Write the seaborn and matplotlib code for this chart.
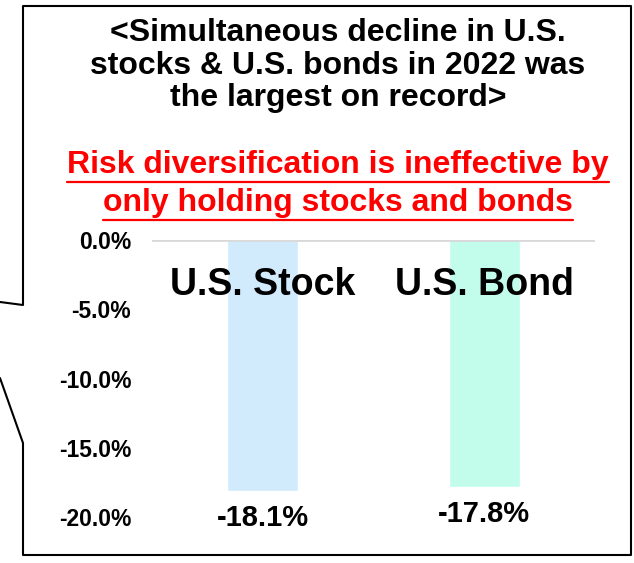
import matplotlib
matplotlib.use("Agg")
import matplotlib.pyplot as plt
import seaborn as sns
import pandas as pd
from matplotlib.lines import Line2D

# -----------------------------
# Data
# -----------------------------
assets = ["U.S. Stock", "U.S. Bond"]
returns_2022 = [-18.1, -17.8]
bar_colors = ["#D1EBFD", "#C2FDEC"]
yticks = [0, -5, -10, -15, -20]

title_lines = ["<Simultaneous decline in U.S.",
               "stocks & U.S. bonds in 2022 was",
               "the largest on record>"]
red_lines = ["Risk diversification is ineffective by",
             "only holding stocks and bonds"]

df = pd.DataFrame({"asset": assets, "ret": returns_2022})

# -----------------------------
# Style
# -----------------------------
sns.set_style("white")
plt.rcParams["font.family"] = ["Liberation Sans", "DejaVu Sans"]
plt.rcParams["font.weight"] = "bold"
plt.rcParams["text.color"] = "black"
plt.rcParams["ytick.color"] = "black"

W, H = 634, 563
fig = plt.figure(figsize=(W / 100, H / 100), dpi=100)
ax = fig.add_axes([152 / W, 46 / H, (595 - 152) / W, (517 - 240) / H])

sns.barplot(data=df, x="asset", y="ret", hue="asset", palette=bar_colors,
            width=0.32, legend=False, ax=ax, saturation=1)

ax.set_xlim(-0.5, 1.5)
ax.set_ylim(-20, 0)
ax.set_yticks(yticks)
ax.set_yticklabels([f"{v:.1f}%" for v in yticks], fontsize=16.5, fontweight="bold",
                   color="black")
ax.tick_params(axis="y", length=0, pad=15)
ax.set_xticks([])
ax.set_xlabel("")
ax.set_ylabel("")
for s in ax.spines.values():
    s.set_visible(False)
ax.axhline(0, color="#D9D9D9", lw=2, zorder=3)

# category names inside the plot and value labels under bars
for i, (name, val) in enumerate(zip(assets, returns_2022)):
    ax.text(i, -3.25, name, ha="center", va="center", fontsize=27, fontweight="bold",
            color="black")
    ax.annotate(f"{val:.1f}%", (i, val), xytext=(0, -20), textcoords="offset points",
                ha="center", va="center", fontsize=21, fontweight="bold",
                color="black", annotation_clip=False)

# -----------------------------
# Headline text
# -----------------------------
cx = 338 / W
for txt, y in zip(title_lines, [33, 66, 98]):
    fig.text(cx, 1 - y / H, txt, ha="center", va="center", fontsize=23,
             fontweight="bold", color="black")

red_texts = []
for txt, y in zip(red_lines, [165, 203]):
    t = fig.text(cx, 1 - y / H, txt, ha="center", va="center", fontsize=23,
                 fontweight="bold", color="#FF0000")
    red_texts.append((t, y))

fig.canvas.draw()
for t, y in red_texts:
    bb = t.get_window_extent()
    uy = 1 - (y + 17) / H
    fig.add_artist(Line2D([bb.x0 / W, bb.x1 / W], [uy, uy], color="#FF0000", lw=1.6,
                          transform=fig.transFigure))

# -----------------------------
# Callout box with pointer
# -----------------------------
px = [0, 23, 23, 631, 631, 23, 23, 0]
py = [302, 305, 6, 6, 555, 555, 443, 378]
fig.add_artist(Line2D([x / W for x in px], [1 - y / H for y in py], color="black",
                      lw=1.5, transform=fig.transFigure))

plt.savefig("out.png", dpi=100)
